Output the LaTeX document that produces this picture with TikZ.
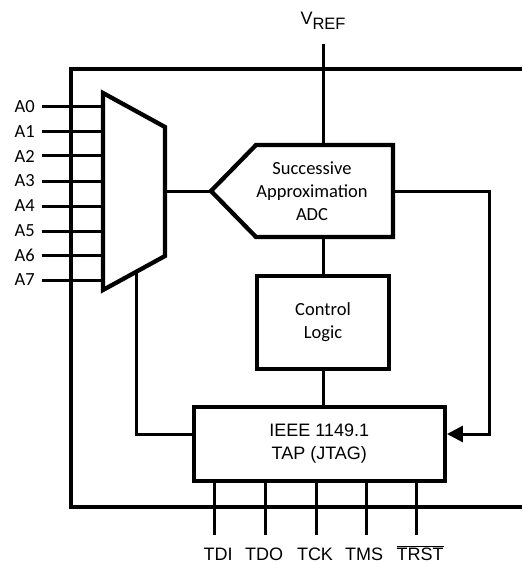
\documentclass[tikz,border=0pt]{standalone}
\usepackage{fontspec}
\setmainfont{Carlito}
\newfontfamily\arialfont{Liberation Sans}
\usetikzlibrary{arrows.meta}
\begin{document}
\begin{tikzpicture}[x=1pt,y=-1pt,
  wire/.style={line width=3pt},
  heavy/.style={line width=4.3pt, line join=miter},
  blockbox/.style={draw, line width=4.3pt, inner sep=0pt, align=center, font=\fontsize{18.5}{23}\selectfont},
  calib/.style={font=\fontsize{18.5}{23}\selectfont, inner sep=0pt},
  arial/.style={font=\arialfont\fontsize{18}{22}\selectfont, inner sep=0pt},
  tip/.style={-{Triangle[length=16pt,width=16pt]}}]
\useasboundingbox (0,0) rectangle (522,564);

% outer frame
\draw[heavy] (522,69) -- (71,69) -- (71,507) -- (522,507);

% multiplexer
\coordinate (mtl) at (103,93);
\coordinate (mtr) at (165,127);
\coordinate (mbr) at (165,256);
\coordinate (mbl) at (103,290);
\coordinate (mout) at (165,191);
\draw[heavy] (mtl) -- (mtr) -- (mbr) -- (mbl) -- cycle;

% inputs
\foreach \i/\y in {0/107,1/132,2/156,3/181,4/206,5/231,6/255,7/280}{
  \node[calib, anchor=east] (lab\i) at (35,\y) {A\i};
  \coordinate (in\i) at (42,\y);
  \draw[wire] (in\i) -- (103,\y);
}

% ADC
\coordinate (apt) at (211,191);
\coordinate (atl) at (256,145);
\coordinate (atr) at (393,145);
\coordinate (abr) at (393,237);
\coordinate (abl) at (256,237);
\draw[heavy] (apt) -- (atl) -- (atr) -- (abr) -- (abl) -- cycle;
\node[calib, align=center] (adc) at (312,191) {Successive\\Approximation\\ADC};
\coordinate (atop) at (323,145);
\coordinate (abot) at (323,237);
\coordinate (aout) at (393,191);

% control logic
\node[blockbox, minimum width=132pt, minimum height=93pt] (ctrl) at (323,322.5) {Control\\Logic};

% TAP
\node[blockbox, minimum width=251pt, minimum height=74pt, font=\arialfont\fontsize{18}{23}\selectfont] (tap) at (319.3,444) {IEEE 1149.1\\TAP (JTAG)};

% VREF
\node[arial, anchor=base] (vref) at (323,25) {V\raisebox{-4.3pt}{\fontsize{16.5}{20}\selectfont REF}};
\coordinate (vtop) at (323,44);
\draw[wire] (vtop) -- (atop);

% connections
\draw[wire] (mout) -- (apt);
\draw[wire] (abot) -- (ctrl.north);
\draw[wire] (ctrl.south) -- (tap.north -| ctrl.south);
\coordinate (rc1) at (489,191);
\coordinate (rc2) at (489,434);
\draw[wire, tip] (aout) -- (rc1) -- (rc2) -- (rc2 -| tap.east);
\coordinate (lc1) at (136,273);
\coordinate (lc2) at (136,434);
\draw[wire] (lc1) -- (lc2) -- (lc2 -| tap.west);

% TAP pins
\foreach \x/\n in {214/p1,265/p2,316/p3,366/p4,416/p5}{
  \coordinate (\n) at (\x,535);
  \draw[wire] (\x,481) -- (\n);
}
\node[arial, anchor=base] (l1) at (218,560) {TDI};
\node[arial, anchor=base] (l2) at (264,560) {TDO};
\node[arial, anchor=base] (l3) at (315,560) {TCK};
\node[arial, anchor=base] (l4) at (364,560) {TMS};
\node[arial, anchor=base] (l5) at (420,560) {$\overline{\hbox{\arialfont TRST}}$};
\end{tikzpicture}
\end{document}
